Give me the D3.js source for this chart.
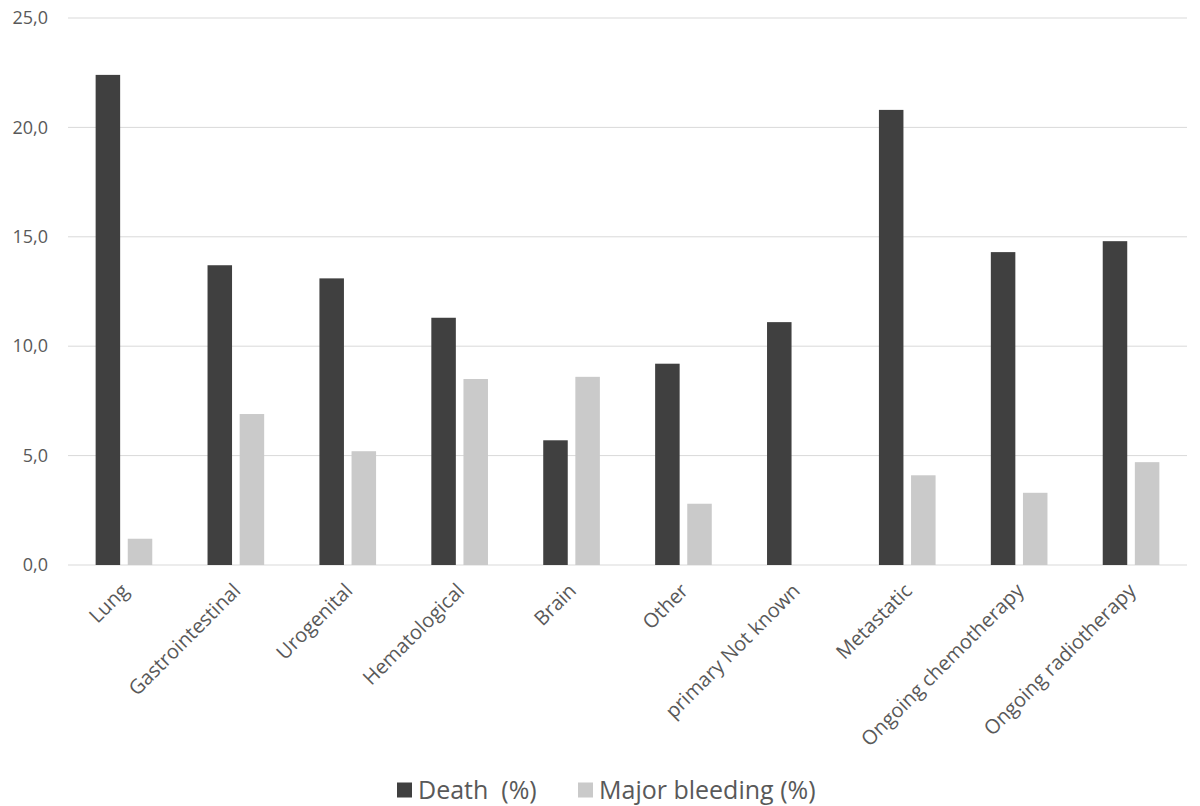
<!DOCTYPE html>
<html>
<head>
<meta charset="utf-8">
<script src="https://cdn.jsdelivr.net/npm/d3@7"></script>
<style>
  body { margin: 0; background: #fff; }
  text { font-family: "Open Sans", "Noto Sans", sans-serif; fill: #595959; }
</style>
</head>
<body>
<div id="chart"></div>
<script>
// chart values
var categories = ["Lung", "Gastrointestinal", "Urogenital", "Hematological", "Brain",
                  "Other", "primary Not known", "Metastatic", "Ongoing chemotherapy", "Ongoing radiotherapy"];
var death = [22.4, 13.7, 13.1, 11.3, 5.7, 9.2, 11.1, 20.8, 14.3, 14.8];
var bleeding = [1.2, 6.9, 5.2, 8.5, 8.6, 2.8, 0, 4.1, 3.3, 4.7];
var seriesNames = ["Death  (%)", "Major bleeding (%)"];
var yTicks = [0, 5, 10, 15, 20, 25];

var colors = ["#404040", "#cacaca"];

// set the dimensions and margins of the graph
var margin = {top: 18, right: 13, bottom: 241, left: 68},
    width = 1200 - margin.left - margin.right,
    height = 806 - margin.top - margin.bottom;

var svg = d3.select("#chart")
  .append("svg")
    .attr("width", 1200)
    .attr("height", 806)
  .append("g")
    .attr("transform", "translate(" + margin.left + "," + margin.top + ")");

var rows = categories.map(function(c, i) {
  return {cat: c, values: [death[i], bleeding[i]]};
});

var x = d3.scaleBand()
  .domain(categories)
  .range([0, width]);

var xSub = d3.scaleBand()
  .domain([0, 1])
  .range([0, x.bandwidth()])
  .paddingInner(0.237)
  .paddingOuter(0.86);

var y = d3.scaleLinear()
  .domain([0, 25])
  .range([height, 0]);

// gridlines
svg.append("g")
  .selectAll("line")
  .data(yTicks)
  .enter()
  .append("line")
    .attr("x1", 0)
    .attr("x2", width)
    .attr("y1", function(d) { return y(d); })
    .attr("y2", function(d) { return y(d); })
    .attr("stroke", "#d9d9d9")
    .attr("stroke-width", 1);

// y axis labels
var fmt = d3.format(".1f");
var yAxis = svg.append("g")
  .call(d3.axisLeft(y).tickValues(yTicks).tickSize(0).tickPadding(20)
        .tickFormat(function(d) { return fmt(d).replace(".", ","); }));
yAxis.select(".domain").remove();
yAxis.selectAll("text")
  .style("font-size", "18px")
  .style("font-family", "'Open Sans', sans-serif")
  .attr("fill", "#595959");

// bars
var groups = svg.selectAll(".grp")
  .data(rows)
  .enter()
  .append("g")
    .attr("transform", function(d) { return "translate(" + x(d.cat) + ",0)"; });

groups.selectAll("rect")
  .data(function(d) { return d.values.map(function(v, k) { return {k: k, v: v}; }); })
  .enter()
  .append("rect")
    .attr("x", function(d) { return xSub(d.k); })
    .attr("width", xSub.bandwidth())
    .attr("y", function(d) { return y(d.v); })
    .attr("height", function(d) { return height - y(d.v); })
    .attr("fill", function(d) { return colors[d.k]; });

// x axis labels, rotated
svg.append("g")
  .selectAll("text")
  .data(categories)
  .enter()
  .append("text")
    .attr("transform", function(d) {
      return "translate(" + (x(d) + x.bandwidth() / 2 + 1) + "," + (height + 22) + ") rotate(-45)";
    })
    .attr("text-anchor", "end")
    .attr("dy", "0.35em")
    .style("font-size", "20px")
    .text(function(d) { return d; });

// legend
var legend = svg.append("g")
  .attr("transform", "translate(0," + (790 - margin.top) + ")");
var legX = [397 - margin.left, 578 - margin.left];

var item = legend.selectAll("g")
  .data(seriesNames)
  .enter()
  .append("g")
    .attr("transform", function(d, i) { return "translate(" + legX[i] + ",0)"; });

item.append("rect")
  .attr("x", 0)
  .attr("y", -7.5)
  .attr("width", 15)
  .attr("height", 15)
  .attr("fill", function(d, i) { return colors[i]; });

item.append("text")
  .attr("x", 21)
  .attr("dy", "0.36em")
  .style("font-size", "25px")
  .style("white-space", "pre")
  .attr("xml:space", "preserve")
  .text(function(d) { return d; });
</script>
</body>
</html>
